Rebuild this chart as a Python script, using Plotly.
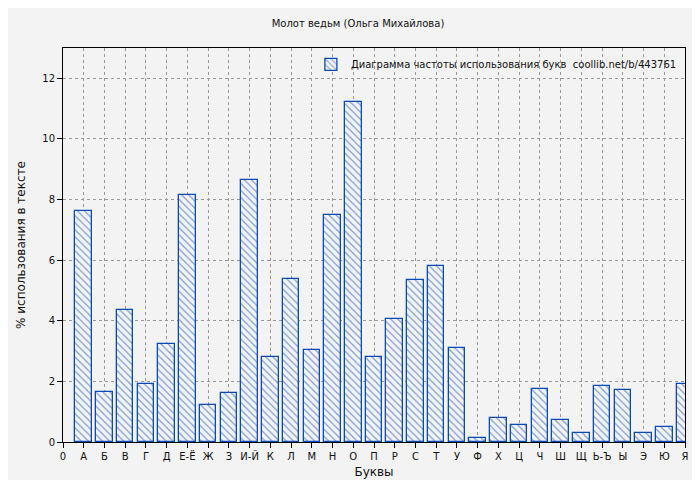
import plotly.graph_objects as go

letters = ["А","Б","В","Г","Д","Е-Ё","Ж","З","И-Й","К","Л","М","Н","О","П","Р","С","Т","У","Ф","Х","Ц","Ч","Ш","Щ","Ь-Ъ","Ы","Э","Ю","Я"]
values = [7.63,1.64,4.34,1.91,3.22,8.16,1.22,1.61,8.65,2.80,5.39,3.03,7.50,11.22,2.80,4.05,5.33,5.82,3.09,0.13,0.79,0.56,1.74,0.72,0.30,1.84,1.71,0.30,0.49,1.91]
tick_labels = ["0"] + letters
y_ticks = [0,2,4,6,8,10,12]

blue = "#0a4ab8"
fig = go.Figure()
fig.add_trace(go.Bar(
    x=list(range(1, len(letters)+1)), y=values, width=0.8,
    name="Диаграмма частоты использования букв  coollib.net/b/443761",
    marker=dict(color="rgba(0,0,0,0)", line=dict(color=blue, width=1.3),
                pattern=dict(shape="\\", fgcolor=blue, bgcolor="#f3f3f3", size=5, solidity=0.25)),
))
fig.update_layout(
    width=700, height=480, paper_bgcolor="#f3f3f3", plot_bgcolor="#f3f3f3",
    margin=dict(l=55, r=23, t=40, b=46, autoexpand=False),
    font=dict(family="DejaVu Sans", size=10, color="#111"),
    title=dict(text="Молот ведьм (Ольга Михайлова)", x=0.5, xanchor="center", y=0.975, yanchor="top", font=dict(size=10)),
    showlegend=True,
    legend=dict(x=0.995, y=0.995, xanchor="right", yanchor="top", bgcolor="rgba(0,0,0,0)", font=dict(size=10)),
    bargap=0,
)
fig.update_xaxes(range=[0, 30], tickvals=list(range(0, 31)), ticktext=tick_labels, automargin=False,
                 ticks="outside", ticklen=5, tickcolor="#000", showline=True, linecolor="#000", mirror=True,
                 showgrid=True, gridcolor="#999", griddash="dot", zeroline=False,
                 title=dict(text="Буквы", standoff=6))
fig.update_yaxes(range=[0, 13], tickvals=y_ticks, ticks="outside", ticklen=5, tickcolor="#000", automargin=False,
                 showline=True, linecolor="#000", mirror=True,
                 showgrid=True, gridcolor="#999", griddash="dot", zeroline=False,
                 title=dict(text="% использования в тексте", standoff=14))
fig.write_html("out.html")
